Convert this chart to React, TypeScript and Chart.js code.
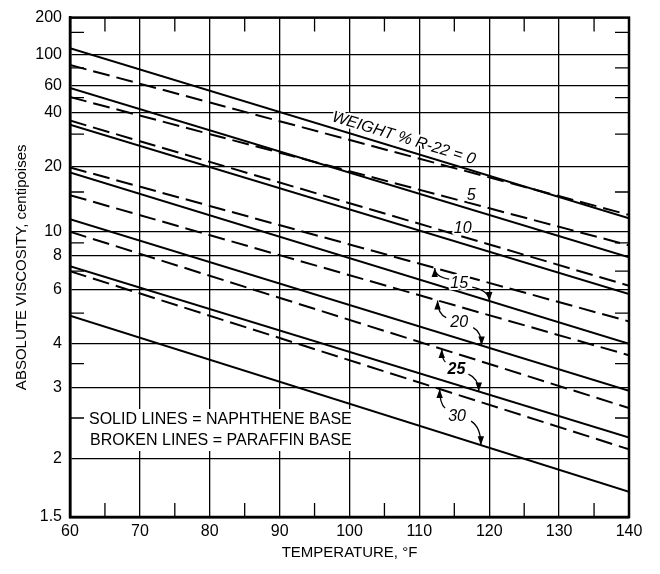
import React, { useEffect, useRef } from 'react';
import { Chart, registerables, Scale } from 'chart.js';

Chart.register(...registerables);

// ---- data -------------------------------------------------------------
const TEMPS = [60, 140]; // °F
const WEIGHT_PCT = [0, 5, 10, 15, 20, 25, 30]; // weight % R-22 dissolved
const NAPHTHENE_AT_60 = [112, 58, 34, 18.7, 11.3, 7.3, 4.9];
const NAPHTHENE_AT_140 = [11.4, 7.9, 5.8, 4.0, 2.94, 2.24, 1.69];
const PARAFFIN_AT_60 = [84, 50.5, 36, 19.8, 14.5, 10, 7.0];
const PARAFFIN_AT_140 = [11.8, 8.8, 6.2, 4.7, 3.7, 2.65, 2.1];

const VISC_TICKS = [1.5, 2, 3, 4, 6, 8, 10, 20, 40, 60, 100, 200];
const VISC_MINOR = [2.5, 3.5, 5, 7, 9, 15, 30, 50, 80, 150];
const TEMP_MINOR = [65, 75, 85, 95, 105, 115, 125, 135];

const FONT = '"Liberation Sans", Arial, Helvetica, sans-serif';

// ---- viscosity (double-log) scale ---------------------------------------
const SHIFT = 0.76;
const toT = (v: number) => Math.log10(Math.log10(v + SHIFT));
const fromT = (t: number) => Math.pow(10, Math.pow(10, t)) - SHIFT;

class ViscosityScale extends Scale {
  static id = 'viscosity';
  static defaults = {};
  determineDataLimits() {
    (this as any).min = (this as any).options.min;
    (this as any).max = (this as any).options.max;
  }
  buildTicks() {
    return VISC_TICKS.map((value) => ({ value }));
  }
  configure() {
    super.configure();
    (this as any)._lo = toT((this as any).min);
    (this as any)._hi = toT((this as any).max);
  }
  getLabelForValue(value: number) {
    return String(value);
  }
  getPixelForValue(value: number) {
    const s = this as any;
    return s.getPixelForDecimal((toT(value) - s._lo) / (s._hi - s._lo));
  }
  getValueForPixel(pixel: number) {
    const s = this as any;
    return fromT(s._lo + s.getDecimalForPixel(pixel) * (s._hi - s._lo));
  }
}
Chart.register(ViscosityScale as any);

// ---- series ------------------------------------------------------------
const NAPHTHENE = WEIGHT_PCT.map((_, i) => [NAPHTHENE_AT_60[i], NAPHTHENE_AT_140[i]]);
const PARAFFIN = WEIGHT_PCT.map((_, i) => [PARAFFIN_AT_60[i], PARAFFIN_AT_140[i]]);

const toPoints = (vals: number[]) => TEMPS.map((t, k) => ({ x: t, y: vals[k] }));

const datasets: any[] = [];
WEIGHT_PCT.forEach((pct, i) => {
  datasets.push({
    label: `Naphthene base, ${pct}% R-22`,
    data: toPoints(NAPHTHENE[i]),
    borderColor: '#000',
    borderWidth: 2,
    pointRadius: 0,
    tension: 0,
  });
  datasets.push({
    label: `Paraffin base, ${pct}% R-22`,
    data: toPoints(PARAFFIN[i]),
    borderColor: '#000',
    borderWidth: 2,
    borderDash: [17, 7],
    pointRadius: 0,
    tension: 0,
  });
});

// curve names written next to a line
const LINE_TAGS = [
  { text: 'WEIGHT % R-22 = 0', family: NAPHTHENE, idx: 0, temp: 107.3, lift: 11, along: true },
  { text: '5', family: PARAFFIN, idx: 1, temp: 117.4, lift: 8, along: false },
  { text: '10', family: PARAFFIN, idx: 2, temp: 116.2, lift: 8, along: false },
];

// curve names set between a pair, with arrows to both lines
const ARROW_TAGS = [
  { text: '15', idx: 3, temp: 115.7, upTip: 112.2, downTip: 120.0, up: [-10, -4], down: [13, 4], bold: false },
  { text: '20', idx: 4, temp: 115.7, upTip: 112.6, downTip: 118.9, up: [-13, -5], down: [14, 5], bold: false },
  { text: '25', idx: 5, temp: 115.3, upTip: 113.2, downTip: 118.5, up: [-11, -7], down: [12, 5], bold: true },
  { text: '30', idx: 6, temp: 115.4, upTip: 112.9, downTip: 118.8, up: [-12, -8], down: [14, 5], bold: false },
];

function drawArrow(ctx: CanvasRenderingContext2D, sx: number, sy: number, tx: number, ty: number) {
  const cx = tx;
  const cy = sy * 0.75 + ty * 0.25;
  ctx.beginPath();
  ctx.moveTo(sx, sy);
  ctx.quadraticCurveTo(cx, cy, tx, ty);
  ctx.stroke();
  const ang = Math.atan2(ty - cy, tx - cx);
  const L = 9;
  const W = 3.2;
  ctx.beginPath();
  ctx.moveTo(tx, ty);
  ctx.lineTo(tx - L * Math.cos(ang) + W * Math.sin(ang), ty - L * Math.sin(ang) - W * Math.cos(ang));
  ctx.lineTo(tx - L * Math.cos(ang) - W * Math.sin(ang), ty - L * Math.sin(ang) + W * Math.cos(ang));
  ctx.closePath();
  ctx.fill();
}

const decorations = {
  id: 'decorations',
  afterDatasetsDraw(chart: any) {
    const { ctx, chartArea: a, scales } = chart;
    const xs = scales.x;
    const ys = scales.y;
    const x0 = xs.getPixelForValue(TEMPS[0]);
    const x1 = xs.getPixelForValue(TEMPS[1]);
    const lineAt = (vals: number[], temp: number) => {
      const px = xs.getPixelForValue(temp);
      const y0 = ys.getPixelForValue(vals[0]);
      const y1 = ys.getPixelForValue(vals[1]);
      return { x: px, y: y0 + ((px - x0) / (x1 - x0)) * (y1 - y0), ang: Math.atan2(y1 - y0, x1 - x0) };
    };

    ctx.save();
    ctx.strokeStyle = '#000';
    ctx.fillStyle = '#000';

    // short inward ticks
    ctx.lineWidth = 1.3;
    ctx.beginPath();
    for (const v of VISC_MINOR) {
      const y = ys.getPixelForValue(v);
      ctx.moveTo(a.left, y);
      ctx.lineTo(a.left + 14, y);
      ctx.moveTo(a.right, y);
      ctx.lineTo(a.right - 14, y);
    }
    for (const t of TEMP_MINOR) {
      const x = xs.getPixelForValue(t);
      ctx.moveTo(x, a.bottom);
      ctx.lineTo(x, a.bottom - 14);
      ctx.moveTo(x, a.top);
      ctx.lineTo(x, a.top + 14);
    }
    ctx.stroke();

    // frame
    ctx.lineWidth = 2.5;
    ctx.strokeRect(a.left, a.top, a.right - a.left, a.bottom - a.top);

    // key
    ctx.font = `16px ${FONT}`;
    ctx.textBaseline = 'middle';
    ctx.textAlign = 'left';
    const key = ['SOLID LINES = NAPHTHENE BASE', 'BROKEN LINES = PARAFFIN BASE'];
    const kw = Math.max(...key.map((k) => ctx.measureText(k).width));
    ctx.fillStyle = '#fff';
    ctx.fillRect(a.left + 15, a.bottom - 108, kw + 10, 42);
    ctx.fillStyle = '#000';
    ctx.fillText(key[0], a.left + 19, a.bottom - 97);
    ctx.fillText(key[1], a.left + 20, a.bottom - 76);

    // names along lines
    ctx.lineJoin = 'round';
    ctx.textAlign = 'center';
    for (const tag of LINE_TAGS) {
      const p = lineAt(tag.family[tag.idx], tag.temp);
      ctx.save();
      ctx.font = `italic 16px ${FONT}`;
      if (tag.along) {
        ctx.translate(p.x + Math.sin(p.ang) * tag.lift, p.y - Math.cos(p.ang) * tag.lift);
        ctx.rotate(p.ang);
      } else {
        ctx.translate(p.x, p.y - tag.lift);
      }
      ctx.strokeStyle = '#fff';
      ctx.lineWidth = 4;
      ctx.strokeText(tag.text, 0, 0);
      ctx.fillStyle = '#000';
      ctx.fillText(tag.text, 0, 0);
      ctx.restore();
    }

    // names with arrows
    for (const tag of ARROW_TAGS) {
      const upper = lineAt(PARAFFIN[tag.idx], tag.temp);
      const lower = lineAt(NAPHTHENE[tag.idx], tag.temp);
      const cx = upper.x;
      const cy = (upper.y + lower.y) / 2;
      ctx.font = `italic ${tag.bold ? 'bold ' : ''}16px ${FONT}`;
      ctx.strokeStyle = '#fff';
      ctx.lineWidth = 4;
      ctx.strokeText(tag.text, cx, cy);
      ctx.fillStyle = '#000';
      ctx.fillText(tag.text, cx, cy);
      ctx.strokeStyle = '#000';
      ctx.lineWidth = 1.3;
      const t1 = lineAt(PARAFFIN[tag.idx], tag.upTip);
      const t2 = lineAt(NAPHTHENE[tag.idx], tag.downTip);
      drawArrow(ctx, cx + tag.up[0], cy + tag.up[1], t1.x, t1.y);
      drawArrow(ctx, cx + tag.down[0], cy + tag.down[1], t2.x, t2.y);
    }
    ctx.restore();
  },
};

export default function App() {
  const ref = useRef<HTMLCanvasElement>(null);
  useEffect(() => {
    const tickFont = { family: FONT, size: 16 };
    const titleFont = { family: FONT, size: 15 };
    const chart = new Chart(ref.current as HTMLCanvasElement, {
      type: 'line',
      data: { datasets },
      options: {
        responsive: false,
        animation: false,
        layout: { padding: { top: 14, right: 31, left: 0, bottom: 0 } },
        plugins: { legend: { display: false }, tooltip: { enabled: false } },
        scales: {
          x: {
            type: 'linear',
            min: 60,
            max: 140,
            afterFit: (s: any) => {
              s.height = 57;
            },
            ticks: { stepSize: 10, color: '#000', font: tickFont, padding: 5 },
            grid: { color: '#000', lineWidth: 1.3, drawTicks: false },
            border: { color: '#000', width: 2.5 },
            title: {
              display: true,
              text: 'TEMPERATURE, °F',
              color: '#000',
              font: titleFont,
              padding: { top: 0, bottom: 12 },
            },
          },
          y: {
            type: 'viscosity',
            min: 1.5,
            max: 200,
            afterFit: (s: any) => {
              s.width = 70;
            },
            ticks: { color: '#000', font: tickFont, padding: 8, autoSkip: false },
            grid: { color: '#000', lineWidth: 1.3, drawTicks: false },
            border: { color: '#000', width: 2.5 },
            title: {
              display: true,
              text: 'ABSOLUTE VISCOSITY, centipoises',
              color: '#000',
              font: titleFont,
              padding: { top: 13, bottom: 0 },
            },
          } as any,
        },
      },
      plugins: [decorations],
    } as any);
    return () => chart.destroy();
  }, []);
  return (
    <canvas
      ref={ref}
      width={660}
      height={574}
      style={{ position: 'absolute', left: 0, top: 0, display: 'block' }}
    />
  );
}
